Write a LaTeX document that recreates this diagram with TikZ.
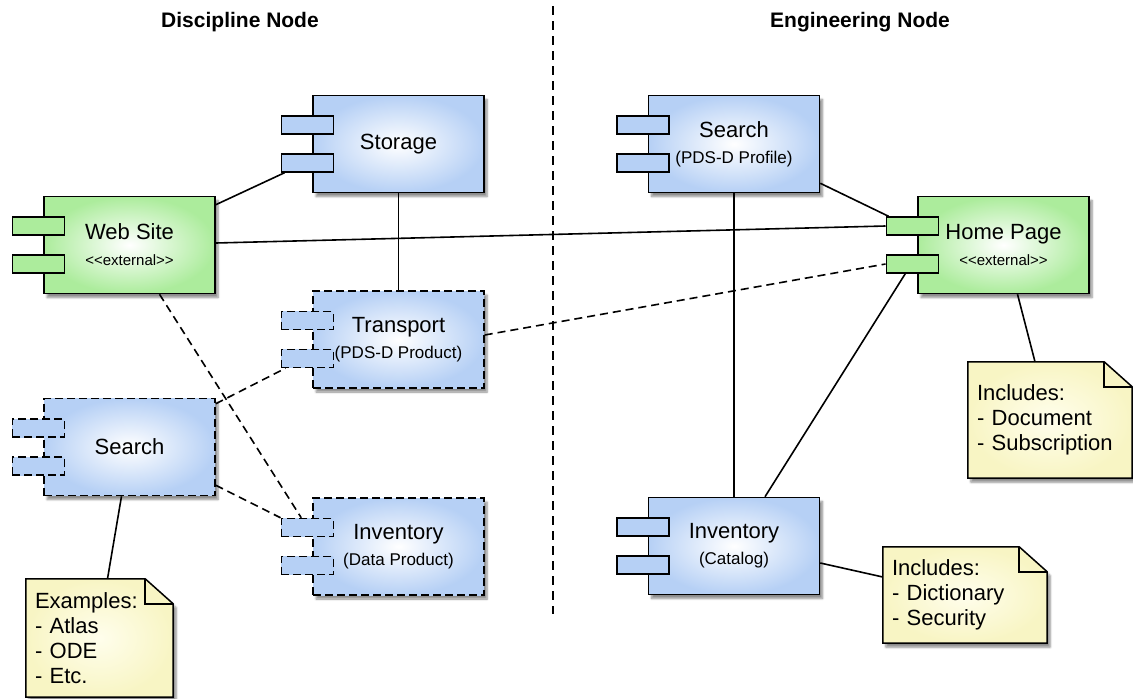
\documentclass[tikz,border=0pt]{standalone}
\usepackage{fontspec}
\setmainfont{Liberation Sans}
\usetikzlibrary{calc}
\usetikzlibrary{shadows.blur}
\usetikzlibrary{backgrounds}
\definecolor{compblue}{RGB}{182,208,245}
\definecolor{compgreen}{RGB}{172,236,156}
\definecolor{noteout}{RGB}{248,245,196}
\definecolor{notein}{RGB}{255,254,236}
\newcommand{\lblfont}{\fontsize{22}{26}\selectfont}
\newcommand{\notefont}{\fontsize{22}{25}\selectfont}
\newcommand{\sublblfont}{\fontsize{17}{20}\selectfont}
\newcommand{\stereofont}{\fontsize{15}{18}\selectfont}
\begin{document}
\begin{tikzpicture} [x=1pt, y=-1pt,
  comp/.style={draw, line width=1.5pt, minimum width=171pt, minimum height=97pt, inner sep=0pt,
    inner color=white, outer color=compblue, align=center, font=\lblfont,
    blur shadow={shadow xshift=3pt, shadow yshift=-4pt, shadow blur steps=6, shadow opacity=45}},
  gcomp/.style={comp, outer color=compgreen},
  dcomp/.style={comp, dashed, dash pattern=on 8pt off 4pt},
  port/.style={draw, line width=1.5pt, minimum width=52pt, minimum height=18pt, inner sep=0pt,
    left color=compblue, middle color=white, right color=compblue},
  gport/.style={port, left color=compgreen, middle color=white, right color=compgreen},
  dport/.style={port, dashed, dash pattern=on 8pt off 4pt},
  notetxt/.style={align=left, inner xsep=9pt, inner ysep=0pt, font=\notefont},
  notepaper/.style={draw, line width=1.5pt, inner color=notein, outer color=noteout,
    blur shadow={shadow xshift=3pt, shadow yshift=-4pt, shadow blur steps=6, shadow opacity=45}},
  title/.style={font=\fontsize{21}{24}\selectfont\bfseries},
  link/.style={line width=1.6pt},
  dlink/.style={link, dashed, dash pattern=on 8pt off 5pt},
  divider/.style={line width=1.6pt, dashed, dash pattern=on 9pt off 6pt}]
\useasboundingbox (0,0) rectangle (1133,699);

% headings and separator
\node[title] (DN) at (240,22) {Discipline Node};
\node[title] (EN) at (860,22) {Engineering Node};
\coordinate (top) at (553,6);
\coordinate (bottom) at (553,614);
\draw[divider] (top) -- (bottom);

% discipline node components
\node[comp]  (ST) at (398.5,144) {Storage};
\node[gcomp] (WS) at (129.5,245) {Web Site\\{\stereofont <{}<external>{}>}};
\node[dcomp] (TR) at (398.5,339.5) {Transport\\{\sublblfont (PDS-D Product)}};
\node[dcomp] (SL) at (129.5,447) {Search};
\node[dcomp] (IL) at (398.5,546.5) {Inventory\\{\sublblfont (Data Product)}};

% engineering node components
\node[comp]  (SR) at (734,144) {Search\\{\sublblfont (PDS-D Profile)}};
\node[gcomp] (HP) at (1003.5,245) {Home Page\\{\stereofont <{}<external>{}>}};
\node[comp]  (IR) at (734,546) {Inventory\\{\sublblfont (Catalog)}};

% interface tabs
\foreach \n/\p in {ST/port, WS/gport, TR/dport, SL/dport, IL/dport, SR/port, HP/gport, IR/port} {
 \node[\p] (\n-p1) at ([xshift=-5pt,yshift=19pt]\n.west) {};
 \node[\p] (\n-p2) at ([xshift=-5pt,yshift=-19pt]\n.west) {};
}

% notes
\node[notetxt, text width=129pt, minimum height=118pt] (EX) at (99.5,638) {Examples:\\- Atlas\\- ODE\\- Etc.};
\node[notetxt, text width=146pt, minimum height=116pt] (DOC) at (1050,420) {Includes:\\- Document\\- Subscription};
\node[notetxt, text width=146pt, minimum height=96pt] (DIC) at (965,595) {Includes:\\- Dictionary\\- Security};
\begin{scope}[on background layer]
\foreach \n in {EX, DOC, DIC} {
 \path[notepaper] (\n.north west) -- ([xshift=-28pt]\n.north east) -- ([yshift=-25pt]\n.north east)
   -- (\n.south east) -- (\n.south west) -- cycle;
}
\end{scope}
\foreach \n in {EX, DOC, DIC} {
 \draw[line width=1.5pt] ([xshift=-28pt]\n.north east) |- ([yshift=-25pt]\n.north east);
}

% connectors
\draw[link] ([yshift=-9pt]WS.north east) -- ([xshift=4pt]ST-p2.south west);
\draw[link] ([yshift=2pt]WS.east) -- (HP-p1.west);
\draw[link] (ST.south) -- (TR.north);
\draw[dlink] ([xshift=30pt]WS.south) -- ([xshift=-6pt]IL-p1.north);
\draw[dlink] ([yshift=-6pt]SL.north east) -- ([xshift=5pt]TR-p2.south west);
\draw[dlink] ([yshift=11pt]SL.south east) -- (IL-p1.north west);
\draw[dlink] ([yshift=4.5pt]TR.east) -- (HP-p2.west);
\draw[link] ([xshift=-8pt]SL.south) -- ([xshift=8pt]EX.north);
\draw[link] (SR.south) -- (IR.north);
\draw[link] ([yshift=10pt]SR.south east) -- ([xshift=3pt]HP-p1.north west);
\draw[link] ([xshift=-7pt]HP-p2.south) -- ([xshift=31pt]IR.north);
\draw[link] ([xshift=14pt]HP.south) -- ([xshift=-15pt]DOC.north);
\draw[link] ([yshift=-17pt]IR.east) -- ([yshift=18pt]DIC.west);
\end{tikzpicture}
\end{document}
